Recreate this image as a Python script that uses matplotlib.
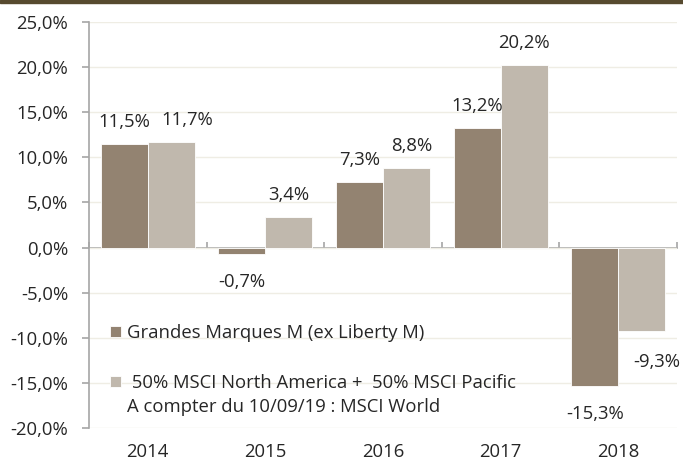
import matplotlib
matplotlib.use("Agg")
import matplotlib.pyplot as plt
from matplotlib.patches import Rectangle
from matplotlib.ticker import FuncFormatter
import numpy as np

years = ["2014", "2015", "2016", "2017", "2018"]
fund = [11.5, -0.7, 7.3, 13.2, -15.3]
bench = [11.7, 3.4, 8.8, 20.2, -9.3]
fund_name = "Grandes Marques M (ex Liberty M)"
bench_name = " 50% MSCI North America +  50% MSCI Pacific"
bench_note = "A compter du 10/09/19 : MSCI World"
yticks = [-20, -15, -10, -5, 0, 5, 10, 15, 20, 25]

C_FUND = "#938371"
C_BENCH = "#c0b8ad"
TXT = "#262626"
AXC = "#a6a6a6"
FS = 13.3

# label nudges (pixels) to avoid overlaps, as in the original chart
NUDGE_X = {("b", 0): 16, ("b", 2): 5, ("b", 4): 15}
NUDGE_Y = {("b", 4): -3}

plt.rcParams['font.family'] = ['Open Sans', 'DejaVu Sans']
plt.rcParams['font.size'] = FS

fig = plt.figure(figsize=(6.83, 4.65), dpi=100)
W, H = 683, 465
ax = fig.add_axes([89 / W, 1 - 428 / H, (677 - 89) / W, (428 - 22) / H])

x = np.arange(len(years))
w = 0.4
b1 = ax.bar(x - w / 2, fund, w, color=C_FUND, edgecolor="white", linewidth=0.6, label=fund_name, zorder=3)
b2 = ax.bar(x + w / 2, bench, w, color=C_BENCH, edgecolor="white", linewidth=0.6, label=bench_name, zorder=3)

ax.set_ylim(yticks[0], yticks[-1])
ax.set_xlim(-0.5, len(years) - 0.5)
ax.set_yticks(yticks)
ax.yaxis.set_major_formatter(FuncFormatter(lambda v, p: f"{v:.1f}%".replace(".", ",")))
ax.tick_params(axis="y", direction="out", length=5, width=1.2, color=AXC, labelcolor=TXT, labelsize=FS, pad=10)
ax.grid(axis="y", color="#efede4", linewidth=1, zorder=0)

ax.set_xticks(x)
ax.set_xticklabels(years)
ax.tick_params(axis="x", length=0, labelcolor=TXT, labelsize=FS, pad=11)

for s in ["top", "right", "bottom"]:
    ax.spines[s].set_visible(False)
ax.spines["left"].set_color(AXC)
ax.spines["left"].set_linewidth(1.2)

# zero axis with category boundary ticks
zero_frac = (0 - yticks[0]) / (yticks[-1] - yticks[0])
sec = ax.secondary_xaxis(zero_frac)
sec.set_xticks(np.arange(len(years) + 1) - 0.5)
sec.set_xticklabels([])
sec.tick_params(direction="in", length=4, color=AXC, width=1.2)
sec.spines["bottom"].set_color(AXC)
sec.spines["bottom"].set_linewidth(1.2)

def lab(v):
    return f"{v:.1f}%".replace(".", ",")

for bars, vals, name in [(b1, fund, "f"), (b2, bench, "b")]:
    for i, (rect, v) in enumerate(zip(bars, vals)):
        cx = rect.get_x() + rect.get_width() / 2
        dy = 22 if v >= 0 else -28
        dx = NUDGE_X.get((name, i), 0)
        dy += NUDGE_Y.get((name, i), 0)
        ax.annotate(lab(v), (cx, v), xytext=(dx, dy), textcoords="offset pixels",
                    ha="center", va="center", color=TXT, fontsize=FS)

common = dict(frameon=False, handlelength=0.6, handleheight=0.6, handletextpad=0.3,
              borderpad=0, borderaxespad=0, fontsize=FS, labelcolor=TXT)
leg1 = ax.legend(handles=[b1], labels=[fund_name], loc="center left",
                 bbox_to_anchor=(0.036, (428 - 333) / 406), **common)
ax.add_artist(leg1)
blank = Rectangle((0, 0), 1, 1, visible=False)
leg2 = ax.legend(handles=[b2, blank], labels=[bench_name, bench_note], loc="center left",
                 bbox_to_anchor=(0.036, (428 - 395) / 406), labelspacing=0.32, **common)

fig.add_artist(Rectangle((0, 1 - 3 / H), 1, 3 / H, transform=fig.transFigure,
                         color="#574a2f", zorder=10))

fig.savefig("out.png", dpi=100)
